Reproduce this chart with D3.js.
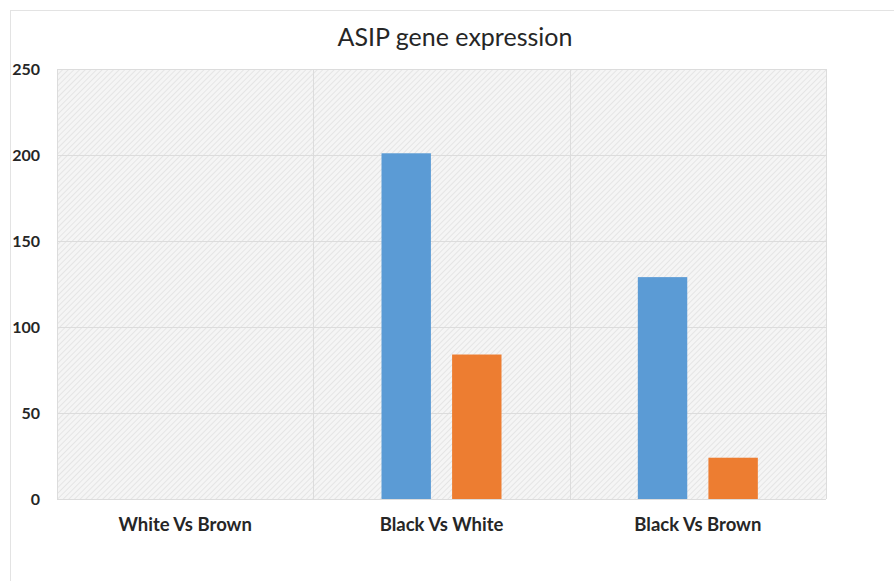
<!DOCTYPE html>
<html>
<head>
<meta charset="utf-8">
<script src="https://cdn.jsdelivr.net/npm/d3@7"></script>
<style>
  body { margin: 0; background: #fff; }
  text { font-family: Lato, "Open Sans", sans-serif; fill: #262626; }
</style>
</head>
<body>
<svg id="chart"></svg>
<script>
// Data
const categories = ["White Vs Brown", "Black Vs White", "Black Vs Brown"];
const seriesNames = ["Series1", "Series2"];
const series1 = [0, 201, 129];
const series2 = [0, 84, 24];
const yTicks = [0, 50, 100, 150, 200, 250];
const colors = ["#5b9bd5", "#ed7d31"];

const W = 894, H = 581;
const margin = {top: 69, right: 68, bottom: 82, left: 57};
const width = W - margin.left - margin.right;
const height = H - margin.top - margin.bottom;

const svg = d3.select("#chart").attr("width", W).attr("height", H);

// hatched plot background
const defs = svg.append("defs");
const pat = defs.append("pattern")
    .attr("id", "hatch")
    .attr("width", 4).attr("height", 4)
    .attr("patternUnits", "userSpaceOnUse")
    .attr("patternTransform", "rotate(45)");
pat.append("rect").attr("width", 4).attr("height", 4).attr("fill", "#f5f5f5");
pat.append("line").attr("x1", 0).attr("y1", 0).attr("x2", 0).attr("y2", 4)
    .attr("stroke", "#e0e0e0").attr("stroke-width", 1.5);

// outer chart frame
svg.append("rect")
    .attr("x", 10.5).attr("y", 10.5)
    .attr("width", W + 20).attr("height", H + 20)
    .attr("fill", "none").attr("stroke", "#e3e3e3");

const chart = svg.append("g").attr("transform", `translate(${margin.left},${margin.top})`);

const x0 = d3.scaleBand().domain(categories).range([0, width]);
const x1 = d3.scaleBand().domain(seriesNames).range([0, 120]).paddingInner(0.3);
const y = d3.scaleLinear().domain([0, 250]).range([height, 0]);

chart.append("rect").attr("width", width).attr("height", height).attr("fill", "url(#hatch)");

// horizontal gridlines
chart.selectAll(".hgrid").data(yTicks).join("line")
    .attr("class", "hgrid")
    .attr("x1", 0).attr("x2", width)
    .attr("y1", d => Math.round(y(d)) + 0.5).attr("y2", d => Math.round(y(d)) + 0.5)
    .attr("stroke", "#dcdcdc");

// vertical gridlines at category boundaries
const bounds = categories.map(c => x0(c)).concat([width]);
chart.selectAll(".vgrid").data(bounds).join("line")
    .attr("class", "vgrid")
    .attr("x1", d => Math.round(d) + 0.5).attr("x2", d => Math.round(d) + 0.5)
    .attr("y1", 0).attr("y2", height)
    .attr("stroke", "#dcdcdc");

// bars
const rows = categories.map((c, i) => ({cat: c, vals: [series1[i], series2[i]]}));
const groups = chart.selectAll(".grp").data(rows).join("g")
    .attr("class", "grp")
    .attr("transform", d => `translate(${x0(d.cat) + x0.bandwidth() / 2 - 60},0)`);
groups.selectAll("rect").data(d => d.vals.map((v, j) => ({name: seriesNames[j], v, j})))
    .join("rect")
    .attr("x", d => x1(d.name))
    .attr("width", x1.bandwidth())
    .attr("y", d => y(d.v))
    .attr("height", d => height - y(d.v))
    .attr("fill", d => colors[d.j]);

// y axis labels
const yAxis = d3.axisLeft(y).tickValues(yTicks).tickSize(0).tickPadding(17);
const yG = chart.append("g").call(yAxis);
yG.select(".domain").remove();
yG.selectAll("text")
    .style("font-size", "16px").style("font-weight", "700")
    .style("font-family", "Lato, 'Open Sans', sans-serif").attr("fill", "#262626");

// x axis labels
const xAxis = d3.axisBottom(x0).tickSize(0).tickPadding(19);
const xG = chart.append("g").attr("transform", `translate(0,${height})`).call(xAxis);
xG.select(".domain").remove();
xG.selectAll("text")
    .style("font-size", "18.5px").style("font-weight", "700")
    .style("font-family", "Lato, 'Open Sans', sans-serif").attr("fill", "#262626");

// title
svg.append("text")
    .attr("x", 455).attr("y", 46)
    .attr("text-anchor", "middle")
    .style("font-size", "25px")
    .text("ASIP gene expression");
</script>
</body>
</html>
